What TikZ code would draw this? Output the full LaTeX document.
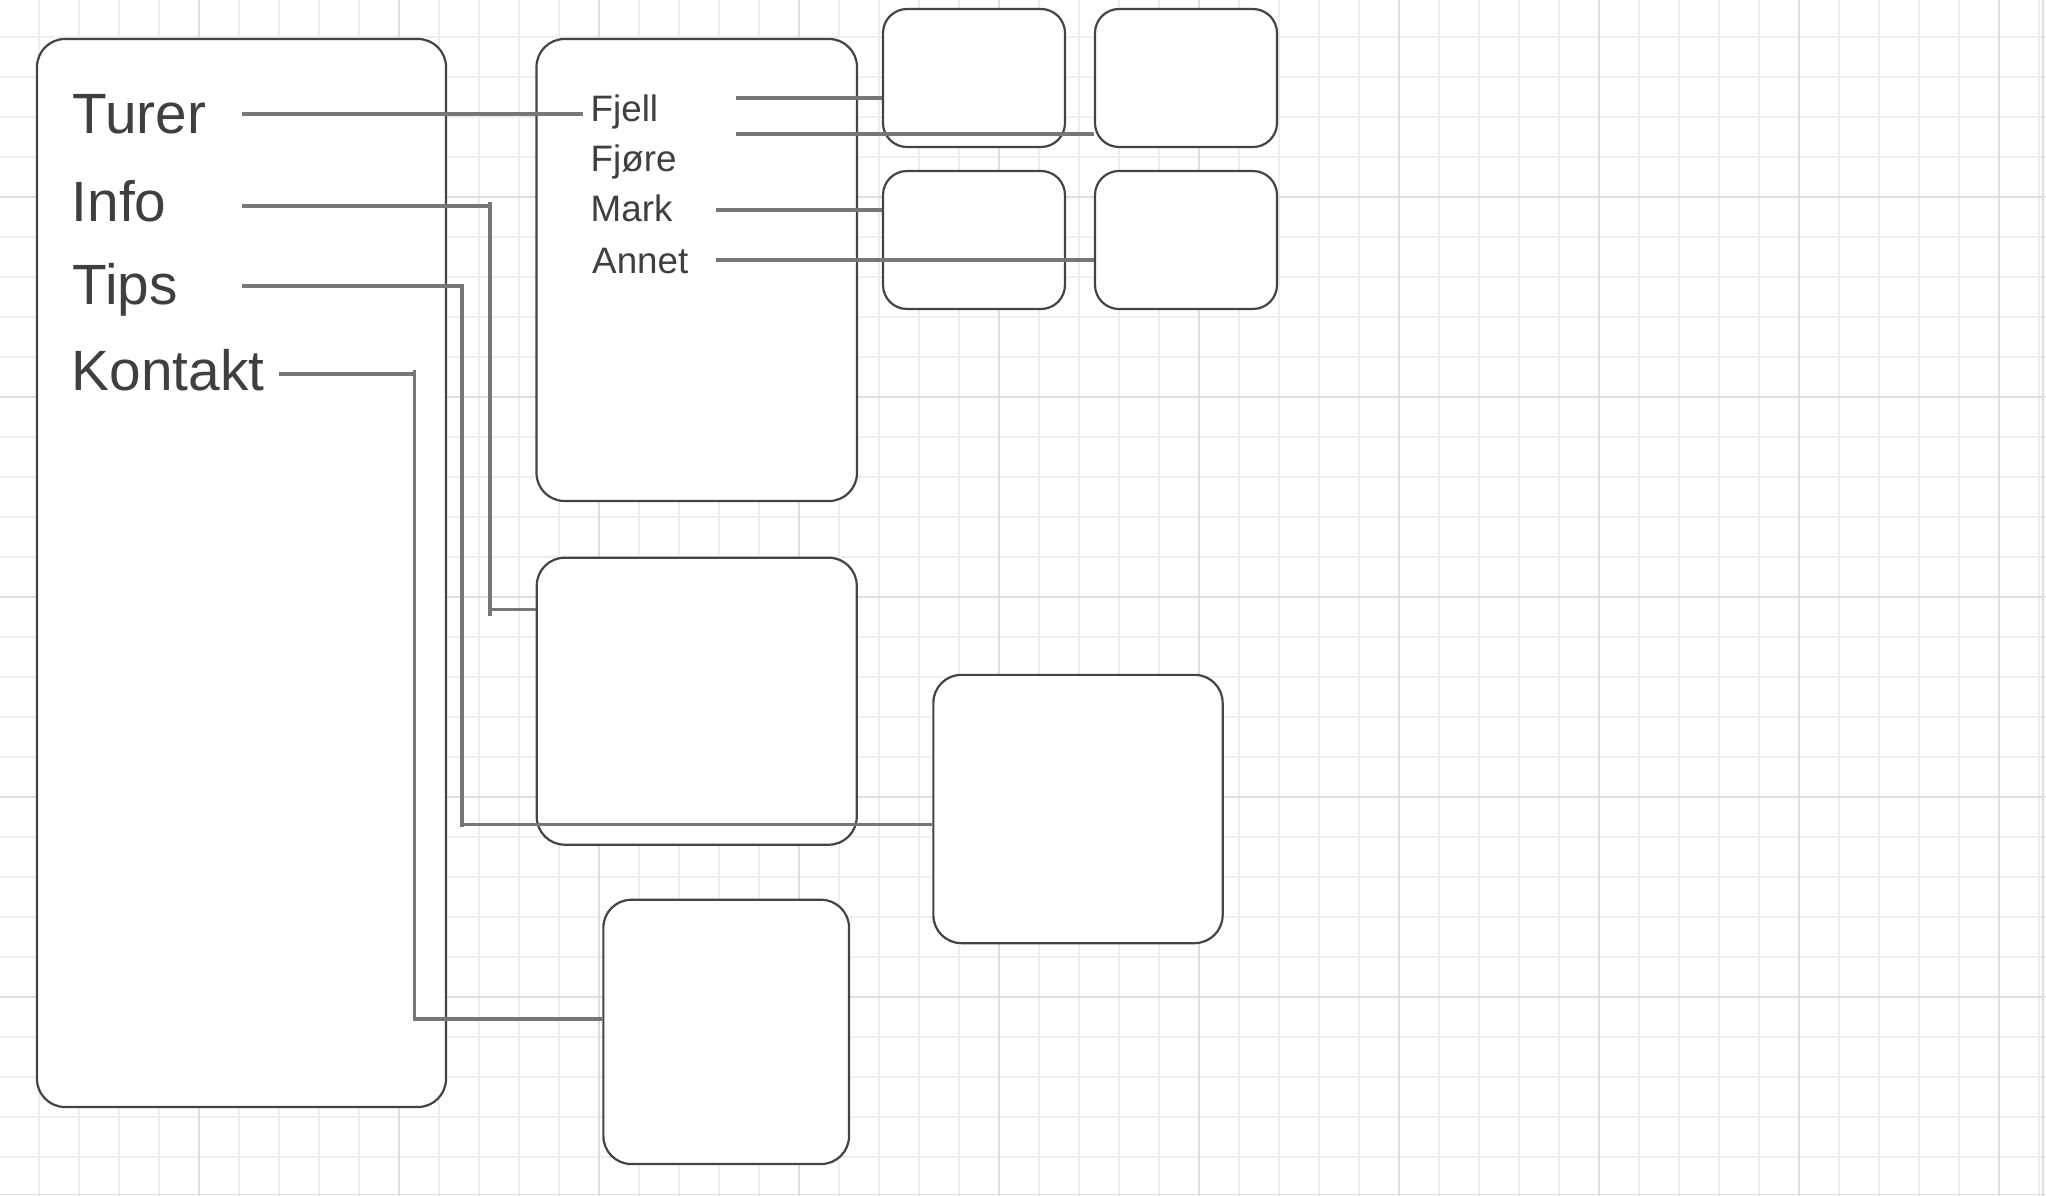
\documentclass[tikz,border=0pt]{standalone}
\usepackage{fontspec}
\setmainfont{Liberation Sans}
\definecolor{gridminor}{HTML}{EEEEEE}
\definecolor{gridmajor}{HTML}{DEDEDE}
\definecolor{boxline}{HTML}{444444}
\definecolor{connline}{HTML}{777777}
\definecolor{txtcol}{HTML}{3F3F3F}
\begin{document}
\begin{tikzpicture}[x=1pt,y=-1pt,
  card/.style={draw=boxline, line width=2.2pt, fill=white, rounded corners=28pt, inner sep=0pt, rectangle},
  smallcard/.style={card, rounded corners=24pt, minimum width=182pt, minimum height=138pt},
  conn/.style={draw=connline, line width=3.8pt},
  bigtxt/.style={text=txtcol, inner sep=0pt, anchor=base west, font=\fontsize{56.8pt}{60pt}\selectfont},
  subtxt/.style={text=txtcol, inner sep=0pt, anchor=base west, font=\fontsize{36.8pt}{40pt}\selectfont}]
% canvas
\fill[white] (0,0) rectangle (2046,1196);
\useasboundingbox (0,0) rectangle (2046,1196);
% grid
\foreach \k in {0,...,50} {\draw[gridminor, line width=1.2pt] (39+40*\k,0) -- (39+40*\k,1196);}
\foreach \k in {0,...,29} {\draw[gridminor, line width=1.2pt] (0,37+40*\k) -- (2046,37+40*\k);}
\foreach \k in {0,...,9} {\draw[gridmajor, line width=1.2pt] (199+200*\k,0) -- (199+200*\k,1196);}
\foreach \k in {0,...,4} {\draw[gridmajor, line width=1.2pt] (0,197+200*\k) -- (2046,197+200*\k);}
\draw[gridmajor, line width=1.5pt] (2043,0) -- (2043,1196);
\draw[gridmajor, line width=1.5pt] (0,1194.5) -- (2046,1194.5);
% boxes
\node[card, minimum width=409pt, minimum height=1068pt] (menu) at (241.5,573) {};
\node[card, minimum width=320.5pt, minimum height=462pt] (sub) at (696.75,270) {};
\node[card, minimum width=320pt, minimum height=287pt] (infobox) at (696.75,701.2) {};
\node[card, minimum width=289.3pt, minimum height=268.3pt] (tipsbox) at (1078,809) {};
\node[card, minimum width=245.7pt, minimum height=264.3pt] (kontaktbox) at (726.2,1031.9) {};
\node[smallcard] (fjellbox) at (974,78) {};
\node[smallcard] (fjorebox) at (1186,78) {};
\node[smallcard] (markbox) at (974,240) {};
\node[smallcard] (annetbox) at (1186,240) {};
% texts
\node[bigtxt] (turer) at (72.5,134) {Turer};
\node[bigtxt] (info) at (71.5,222) {Info};
\node[bigtxt] (tips) at (72.5,304) {Tips};
\node[bigtxt] (kontakt) at (71.5,390) {Kontakt};
\node[subtxt] (fjell) at (590.5,121.7) {Fjell};
\node[subtxt] (fjore) at (590.5,171.7) {Fjøre};
\node[subtxt] (mark) at (590.5,221.7) {Mark};
\node[subtxt] (annet) at (592,273) {Annet};
% connector points
\coordinate (turerS) at (242,114);
\coordinate (turerE) at (583,114);
\coordinate (infoS) at (242,206);
\coordinate (infoC) at (490,206);
\coordinate (infoTop) at (490,202);
\coordinate (infoBot) at (490,615.5);
\coordinate (infoD) at (490,609.4);
\coordinate (tipsS) at (242,285.7);
\coordinate (tipsC) at (461.7,285.7);
\coordinate (tipsTop) at (461.7,283.5);
\coordinate (tipsBot) at (461.7,827);
\coordinate (tipsD) at (461.7,824.5);
\coordinate (kontS) at (279,374);
\coordinate (kontC) at (414.4,374);
\coordinate (kontTop) at (414.4,369.5);
\coordinate (kontBot) at (414.4,1021);
\coordinate (kontD) at (414.4,1019);
\coordinate (fjellS) at (736,97.7);
\coordinate (fjoreS) at (736,134);
\coordinate (markS) at (716,210);
\coordinate (annetS) at (716,259.7);
% connectors
\draw[conn] (turerS) -- (turerE);
\draw[conn] (infoS) -- (infoC);
\draw[conn] (infoTop) -- (infoBot);
\draw[conn] (infoD) -- (infoD -| infobox.west);
\draw[conn] (tipsS) -- (tipsC);
\draw[conn] (tipsTop) -- (tipsBot);
\draw[conn] (tipsD) -- (tipsD -| tipsbox.west);
\draw[conn] (kontS) -- (kontC);
\draw[conn] (kontTop) -- (kontBot);
\draw[conn] (kontD) -- (kontD -| kontaktbox.west);
\draw[conn] (fjellS) -- (fjellS -| fjellbox.west);
\draw[conn] (fjoreS) -- (fjoreS -| fjorebox.west);
\draw[conn] (markS) -- (markS -| markbox.west);
\draw[conn] (annetS) -- (annetS -| annetbox.west);
\end{tikzpicture}
\end{document}
